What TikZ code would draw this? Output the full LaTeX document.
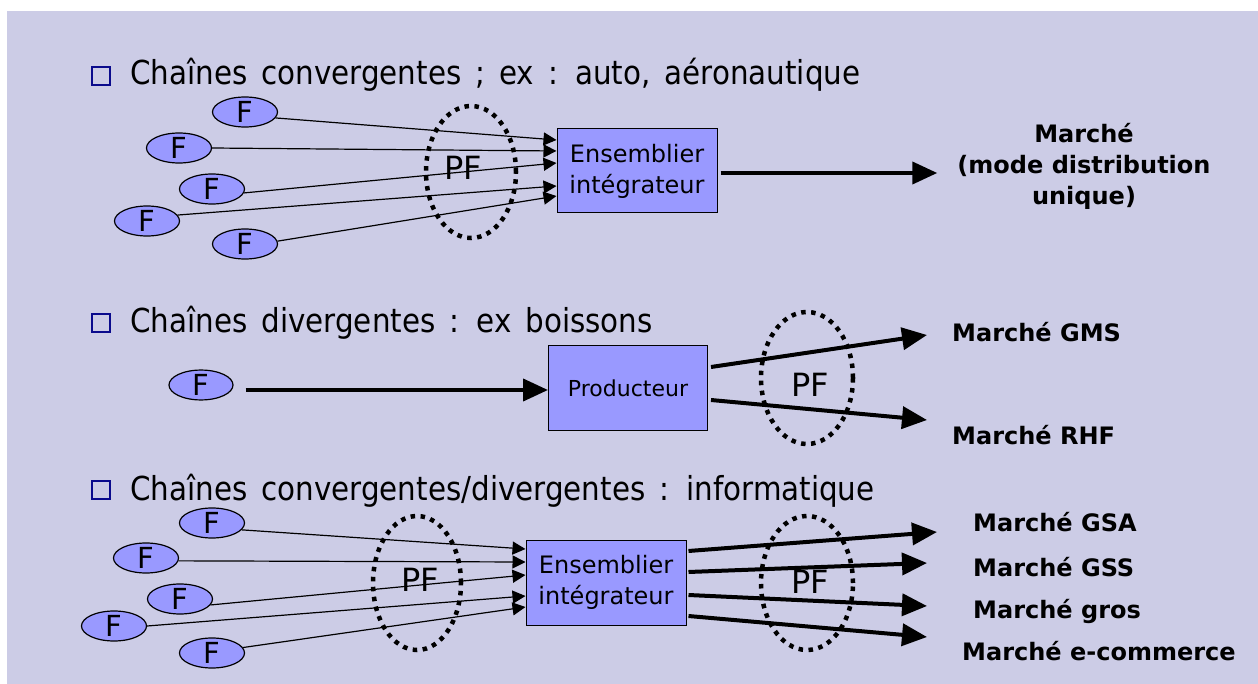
\documentclass[tikz,border=0pt]{standalone}
\usepackage{fontspec}
\setmainfont{DejaVu Sans}
\newfontfamily\headfont{DejaVu Sans}[FakeStretch=0.89, WordSpace=1.5]
\usetikzlibrary{arrows.meta,shapes.geometric}
\definecolor{bg}{RGB}{204,204,230}
\definecolor{blu}{RGB}{153,153,255}
\definecolor{navy}{RGB}{10,10,140}
\begin{document}
\begin{tikzpicture}[x=1pt,y=-1pt,
  fnode/.style={ellipse, draw=black, line width=1.2pt, fill=blu, minimum width=65pt, minimum height=30pt, inner sep=0pt, font=\fontsize{29}{29}\selectfont},
  boxnode/.style={rectangle, draw=black, line width=1pt, fill=blu, inner sep=0pt, align=center, font=\fontsize{24}{31}\selectfont},
  pfell/.style={ellipse, draw=black, line width=4.5pt, dash pattern=on 4.5pt off 5.5pt, inner sep=0pt},
  pftext/.style={inner sep=0pt, font=\fontsize{32}{32}\selectfont},
  bullet/.style={rectangle, draw=navy, line width=2pt, minimum size=18pt, inner sep=0pt},
  head/.style={inner sep=0pt, font=\headfont\fontsize{33}{33}\selectfont},
  lab/.style={inner sep=0pt, font=\fontsize{24}{31}\selectfont\bfseries},
  thinarrow/.style={line width=1.2pt, -{Triangle[length=13pt,width=13pt]}},
  bigarrow/.style={line width=4pt, -{Triangle[length=25pt,width=22pt]}}
]
\useasboundingbox (0,0) rectangle (1258,684);
\fill[bg] (7,11) rectangle (1258,684);

% ---------- Section 1 ----------
\node[bullet] (b1) at (100.5,76) {};
\node[head, anchor=base west] (h1) at (130,85) {Chaînes convergentes ; ex : auto, aéronautique};
\node[pfell, minimum width=90pt, minimum height=132pt] (pf1) at (471,172) {};
\node[pftext] (pft1) at (463,168) {PF};
\node[fnode] (a1) at (245,112) {F};
\node[fnode] (a2) at (179,148) {F};
\node[fnode] (a3) at (212,189) {F};
\node[fnode] (a4) at (147,221) {F};
\node[fnode] (a5) at (245,244) {F};
\node[boxnode, minimum width=160pt, minimum height=84pt] (ens1) at (637,171) {Ensemblier\\intégrateur};
\draw[thinarrow] (a1.-11) -- ([yshift=31pt]ens1.west);
\draw[thinarrow] (a2.east) -- ([yshift=20pt]ens1.west);
\draw[thinarrow] (a3.-7) -- ([yshift=8pt]ens1.west);
\draw[thinarrow] (a4.11) -- ([yshift=-15pt]ens1.west);
\draw[thinarrow] (a5.5) -- ([yshift=-25pt]ens1.west);
\node[lab, align=center] (m1) at (1084,166) {Marché\\(mode distribution\\unique)};
\draw[bigarrow] ([xshift=3pt,yshift=-2pt]ens1.east) -- ([xshift=-20pt,yshift=-7pt]m1.west);

% ---------- Section 2 ----------
\node[bullet] (b2) at (100.5,323) {};
\node[head, anchor=base west] (h2) at (130,333) {Chaînes divergentes : ex boissons};
\node[pfell, minimum width=92pt, minimum height=132pt] (pf2) at (807,378) {};
\node[pftext] (pft2) at (810,385) {PF};
\node[fnode, minimum width=64pt, minimum height=28pt] (f2) at (201,385) {F};
\node[boxnode, minimum width=159pt, minimum height=84pt, font=\fontsize{22}{28}\selectfont] (prod) at (628,388) {Producteur};
\node[lab, anchor=base west] (gms) at (952,342) {Marché GMS};
\node[lab, anchor=base west] (rhf) at (952,444) {Marché RHF};
\coordinate (tg) at (927,335);
\coordinate (tr) at (927,420);
\draw[bigarrow] ([xshift=12pt,yshift=-5pt]f2.east) -- ([yshift=-2pt]prod.west);
\draw[bigarrow] ([xshift=3pt,yshift=21pt]prod.east) -- (tg);
\draw[bigarrow] ([xshift=3pt,yshift=-12pt]prod.east) -- (tr);

% ---------- Section 3 ----------
\node[bullet] (b3) at (100.5,490) {};
\node[head, anchor=base west] (h3) at (130,500) {Chaînes convergentes/divergentes : informatique};
\node[pfell, minimum width=88pt, minimum height=134pt] (pf3) at (417,583) {};
\node[pftext] (pft3) at (420,580) {PF};
\node[pfell, minimum width=92pt, minimum height=134pt] (pf4) at (807,583) {};
\node[pftext] (pft4) at (810,582) {PF};
\node[fnode] (c1) at (212,523) {F};
\node[fnode] (c2) at (146,558) {F};
\node[fnode] (c3) at (180,599) {F};
\node[fnode] (c4) at (114,626) {F};
\node[fnode] (c5) at (212,653) {F};
\node[boxnode, minimum width=160pt, minimum height=85pt] (ens3) at (606,582.5) {Ensemblier\\intégrateur};
\draw[thinarrow] (c1.-13) -- ([yshift=33.5pt]ens3.west);
\draw[thinarrow] (c2.-5) -- ([yshift=20.5pt]ens3.west);
\draw[thinarrow] (c3.-11) -- ([yshift=7.5pt]ens3.west);
\draw[thinarrow] (c4.east) -- ([yshift=-13.5pt]ens3.west);
\draw[thinarrow] (c5.10) -- ([yshift=-24.5pt]ens3.west);
\node[lab, anchor=base west] (gsa) at (973,531) {Marché GSA};
\node[lab, anchor=base west] (gss) at (973,576) {Marché GSS};
\node[lab, anchor=base west] (gros) at (973,618) {Marché gros};
\node[lab, anchor=base west] (ecom) at (962,660) {Marché e-commerce};
\coordinate (t1) at (937,532);
\coordinate (t2) at (927,563);
\coordinate (t3) at (927,606);
\coordinate (t4) at (927,637);
\draw[bigarrow] ([xshift=2pt,yshift=31.5pt]ens3.east) -- (t1);
\draw[bigarrow] ([xshift=2pt,yshift=10.5pt]ens3.east) -- (t2);
\draw[bigarrow] ([xshift=2pt,yshift=-12.5pt]ens3.east) -- (t3);
\draw[bigarrow] ([xshift=2pt,yshift=-33.5pt]ens3.east) -- (t4);
\end{tikzpicture}
\end{document}
